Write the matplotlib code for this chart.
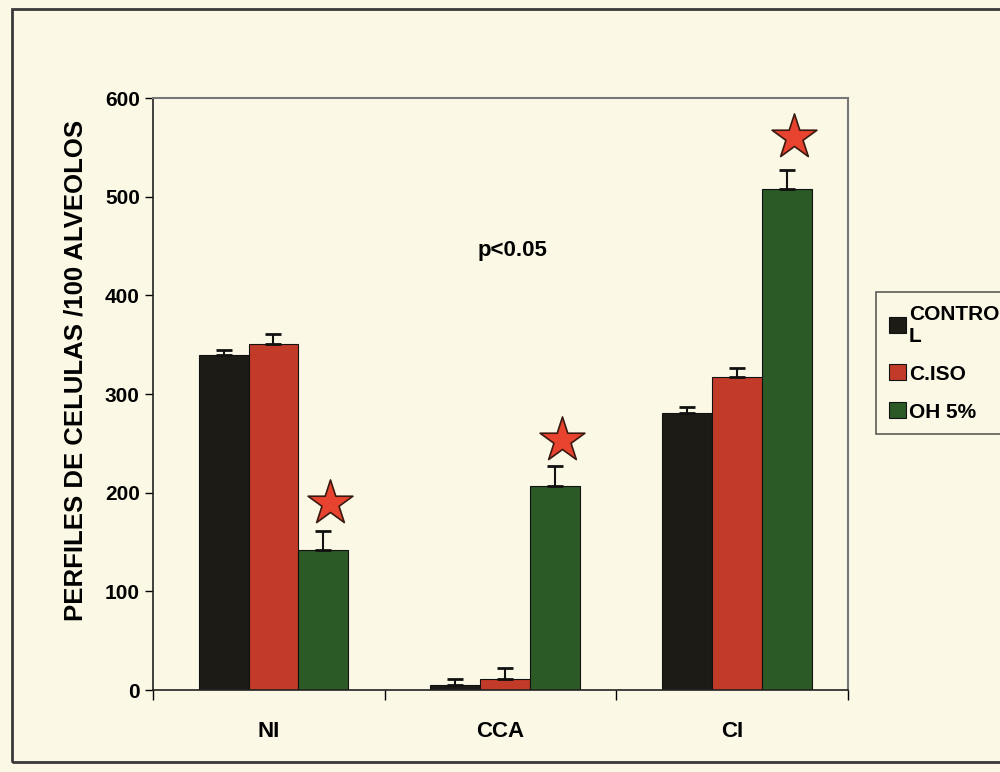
import numpy as np
import matplotlib.pyplot as plt
from matplotlib.patches import Rectangle

# data
categories = ['NI', 'CCA', 'CI']
series = ['CONTRO\nL', 'C.ISO', 'OH 5%']
control = [340, 5, 281]
control_err = [5, 6, 6]
ciso = [351, 11, 317]
ciso_err = [10, 11, 9]
oh5 = [142, 207, 508]
oh5_err = [19, 20, 19]
star_y = [190, 253, 561]   # significance stars above OH 5% bars
yticks = [0, 100, 200, 300, 400, 500, 600]

colors = ['#1c1b16', '#c23a28', '#2b5a26']
bg = '#fbf9e6'

plt.rcParams['font.family'] = ['Liberation Sans', 'DejaVu Sans']
plt.rcParams['font.weight'] = 'bold'

fig = plt.figure(figsize=(10, 7.72), dpi=100, facecolor=bg)
ax = fig.add_axes([0.153, 0.106, 0.695, 0.767], facecolor=bg)

x = np.arange(len(categories))
w = 0.215
vals = [control, ciso, oh5]
errs = [control_err, ciso_err, oh5_err]
for i, (v, e) in enumerate(zip(vals, errs)):
    xs = x + (i - 1) * w + 0.02
    ax.bar(xs, v, width=w, color=colors[i], edgecolor='#111111', linewidth=0.8,
           label=series[i], zorder=2)
    ax.errorbar(xs, v, yerr=[np.zeros(len(v)), e], fmt='none', ecolor='#111111',
                elinewidth=1.5, capsize=6, capthick=2, zorder=3)

ax.scatter(x + w + 0.05, star_y, marker='*', s=1150, color='#e8432e', edgecolor='#3a1a10',
           linewidth=1.2, zorder=4)

ax.text(1.05, 446, 'p<0.05', fontsize=16, fontweight='bold', ha='center', va='center')

ax.set_xlim(-0.5, 2.5)
ax.set_ylim(0, 600)
ax.set_yticks(yticks)
ax.set_yticklabels([str(t) for t in yticks], fontsize=15)
ax.set_xticks([-0.5, 0.5, 1.5, 2.5])
ax.set_xticklabels([])
ax.set_xticks(x, minor=True)
ax.set_xticklabels(categories, minor=True, fontsize=16)
ax.tick_params(axis='x', which='minor', length=0, pad=22)
ax.tick_params(axis='x', which='major', length=7, direction='out', width=1)
ax.tick_params(axis='y', length=6, direction='out', width=1)

for s in ['left', 'bottom']:
    ax.spines[s].set_color('#222222')
    ax.spines[s].set_linewidth(1.2)
for s in ['top', 'right']:
    ax.spines[s].set_color('#777777')
    ax.spines[s].set_linewidth(1.5)

fig.text(0.076, 0.52, 'PERFILES DE CELULAS /100 ALVEOLOS', rotation=90,
         fontsize=18.5, fontweight='bold', ha='center', va='center')

leg = ax.legend(loc='upper left', bbox_to_anchor=(0.866, 0.635),
                bbox_transform=fig.transFigure, fontsize=15, frameon=True,
                fancybox=False, edgecolor='#333333', facecolor=bg,
                handlelength=0.8, handleheight=0.8, handletextpad=0.15,
                labelspacing=0.9, borderpad=0.6)
leg.get_frame().set_linewidth(1.2)

# scanned page frame
fig.patches.append(Rectangle((0.012, 0.013), 1.0, 0.975, transform=fig.transFigure,
                             fill=False, edgecolor='#3a3a3a', linewidth=2))

fig.savefig('out.png', dpi=100, facecolor=bg)
